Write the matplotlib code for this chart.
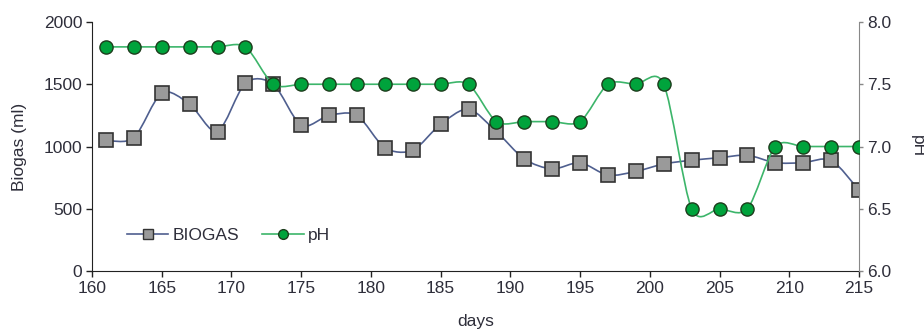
import numpy as np
import matplotlib.pyplot as plt
from matplotlib.path import Path
from matplotlib.patches import PathPatch
from matplotlib.lines import Line2D

plt.rcParams['font.family'] = ['Liberation Sans', 'DejaVu Sans']

days = [161, 163, 165, 167, 169, 171, 173, 175, 177, 179, 181, 183, 185, 187,
        189, 191, 193, 195, 197, 199, 201, 203, 205, 207, 209, 211, 213, 215]
biogas = [1050, 1070, 1430, 1340, 1120, 1510, 1500, 1170, 1250, 1250, 990, 970, 1180, 1300,
          1120, 900, 820, 870, 770, 800, 860, 890, 910, 930, 870, 870, 890, 650]
ph = [7.8, 7.8, 7.8, 7.8, 7.8, 7.8, 7.5, 7.5, 7.5, 7.5, 7.5, 7.5, 7.5, 7.5,
      7.2, 7.2, 7.2, 7.2, 7.5, 7.5, 7.5, 6.5, 6.5, 6.5, 7.0, 7.0, 7.0, 7.0]

txt = '#2e2e3a'
blue_line = '#4f5f8f'
green_line = '#3cb56a'
fs = 12.5


def smooth_path(x, y, k=1 / 7):
    # excel-like smoothed line, bezier segments through each point
    x = np.asarray(x, float)
    y = np.asarray(y, float)
    n = len(x)
    verts = [(x[0], y[0])]
    codes = [Path.MOVETO]
    for i in range(n - 1):
        i0 = max(i - 1, 0)
        i3 = min(i + 2, n - 1)
        c1 = (x[i] + (x[i + 1] - x[i0]) * k, y[i] + (y[i + 1] - y[i0]) * k)
        c2 = (x[i + 1] - (x[i3] - x[i]) * k, y[i + 1] - (y[i3] - y[i]) * k)
        verts += [c1, c2, (x[i + 1], y[i + 1])]
        codes += [Path.CURVE4] * 3
    return Path(verts, codes)


fig = plt.figure(figsize=(9.24, 3.33), dpi=100)
ax = fig.add_axes([0.0996, 0.186, 0.83, 0.748])
ax2 = ax.twinx()

ax.add_patch(PathPatch(smooth_path(days, biogas), fill=False, edgecolor=blue_line, lw=1.2, zorder=2))
ax.plot(days, biogas, ls='None', marker='s', ms=10, mfc='#9a9a9a', mec='#333333', mew=1.2, zorder=3)

ax2.add_patch(PathPatch(smooth_path(days, ph), fill=False, edgecolor=green_line, lw=1.2, zorder=2))
ax2.plot(days, ph, ls='None', marker='o', ms=9.5, mfc='#00a33c', mec='#1d3d1d', mew=1.0, zorder=3)

ax.set_xlim(160, 215)
ax.set_ylim(0, 2000)
ax2.set_ylim(6.0, 8.0)
ax.set_xticks(range(160, 216, 5))
ax.set_yticks(range(0, 2001, 500))
ax2.set_yticks(np.arange(6.0, 8.01, 0.5))
ax2.set_yticklabels(['%.1f' % v for v in np.arange(6.0, 8.01, 0.5)])

for a in (ax, ax2):
    a.spines['top'].set_visible(False)
    a.tick_params(labelsize=fs, colors=txt, length=4, width=1, direction='out')
ax.spines['right'].set_visible(False)
ax.spines['left'].set_color('#222222')
ax.spines['bottom'].set_color('#222222')
ax2.spines['left'].set_visible(False)
ax2.spines['bottom'].set_visible(False)
ax2.spines['right'].set_color('#888888')
ax2.tick_params(axis='y', colors='#888888', labelcolor=txt, length=3, pad=3)
ax.tick_params(axis='x', colors='#222222', labelcolor=txt, pad=3)
ax.tick_params(axis='y', colors='#222222', labelcolor=txt, pad=3)

ax.set_xlabel('days', fontsize=fs, color=txt, labelpad=13)
ax.set_ylabel('Biogas (ml)', fontsize=fs, color=txt, labelpad=12)
ax2.set_ylabel('pH', fontsize=fs, color=txt, rotation=270, labelpad=24)

handles = [
    Line2D([], [], color=blue_line, lw=1.2, marker='s', ms=7, mfc='#9a9a9a', mec='#333333'),
    Line2D([], [], color=green_line, lw=1.2, marker='o', ms=7, mfc='#00a33c', mec='#1d3d1d'),
]
leg = ax.legend(handles, ['BIOGAS', 'pH'], ncol=2, frameon=False, loc='lower left',
                bbox_to_anchor=(0.025, 0.05), fontsize=fs, handlelength=2.4,
                handletextpad=0.25, columnspacing=1.3)
for t in leg.get_texts():
    t.set_color(txt)

fig.savefig('out.png', dpi=100)
